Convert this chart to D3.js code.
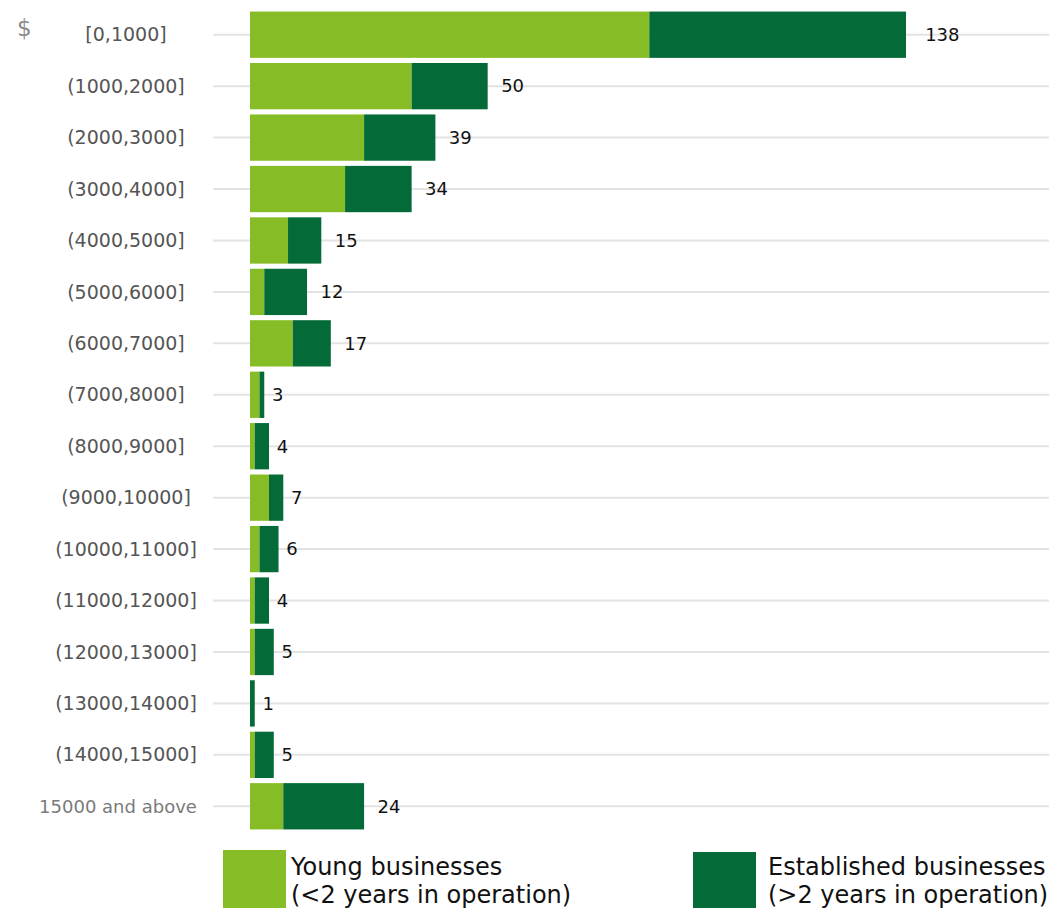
<!DOCTYPE html>
<html>
<head>
<meta charset="utf-8">
<script src="https://cdn.jsdelivr.net/npm/d3@7"></script>
<style>
body { margin: 0; background: #fff; }
svg { font-family: "DejaVu Sans", Verdana, sans-serif; }
</style>
</head>
<body>
<script>
// categories and values
var ranges = ["[0,1000]", "(1000,2000]", "(2000,3000]", "(3000,4000]", "(4000,5000]",
    "(5000,6000]", "(6000,7000]", "(7000,8000]", "(8000,9000]", "(9000,10000]",
    "(10000,11000]", "(11000,12000]", "(12000,13000]", "(13000,14000]", "(14000,15000]",
    "15000 and above"];
var young = [84, 34, 24, 20, 8, 3, 9, 2, 1, 4, 2, 1, 1, 0, 1, 7];
var established = [54, 16, 15, 14, 7, 9, 8, 1, 3, 3, 4, 3, 4, 1, 4, 17];
var seriesNames = ["young", "established"];
var legendLines = [["Young businesses", "(<2 years in operation)"],
                   ["Established businesses", "(>2 years in operation)"]];
var colors = ["#86bc25", "#046a38"];

var width = 1049, height = 908;

var svg = d3.select("body").append("svg")
    .attr("width", width)
    .attr("height", height);

var rows = ranges.map(function(r, i){
    return {range: r, young: young[i], established: established[i]};
});

var stack = d3.stack().keys(seriesNames)(rows);

var x = d3.scaleLinear()
    .domain([0, 138])
    .range([250, 906]);

var y = d3.scaleBand()
    .domain(ranges)
    .range([9, 832])
    .paddingInner(0.1)
    .paddingOuter(0.05);

// gridlines
svg.append("g")
    .selectAll("line")
    .data(ranges)
    .enter()
    .append("line")
    .attr("x1", 213)
    .attr("x2", width)
    .attr("y1", function(d){ return y(d) + y.bandwidth() / 2; })
    .attr("y2", function(d){ return y(d) + y.bandwidth() / 2; })
    .attr("stroke", "#e3e3e3")
    .attr("stroke-width", 2);

// stacked bars
svg.append("g")
    .selectAll("g")
    .data(stack)
    .enter()
    .append("g")
    .attr("fill", function(d, i){ return colors[i]; })
    .selectAll("rect")
    .data(function(d){ return d; })
    .enter()
    .append("rect")
    .attr("x", function(d){ return x(d[0]); })
    .attr("width", function(d){ return x(d[1]) - x(d[0]); })
    .attr("y", function(d){ return y(d.data.range); })
    .attr("height", y.bandwidth());

// category labels
var last = ranges.length - 1;
svg.append("g")
    .selectAll("text")
    .data(ranges)
    .enter()
    .append("text")
    .attr("x", function(d, i){ return i == last ? 118 : 126; })
    .attr("y", function(d){ return y(d) + y.bandwidth() / 2; })
    .attr("dy", "0.35em")
    .attr("text-anchor", "middle")
    .attr("font-size", function(d, i){ return i == last ? 18 : 19; })
    .attr("fill", function(d, i){ return i == last ? "#7a7a7a" : "#555"; })
    .text(function(d){ return d; });

// totals, centred just past the bar end
svg.append("g")
    .selectAll("text")
    .data(rows)
    .enter()
    .append("text")
    .attr("y", function(d){ return y(d.range) + y.bandwidth() / 2; })
    .attr("dy", "0.35em")
    .attr("font-size", 18)
    .attr("fill", "#111")
    .attr("text-anchor", "middle")
    .text(function(d){ return d.young + d.established; })
    .attr("x", function(d){
        return x(d.young + d.established) + 2 + this.getComputedTextLength();
    });

// currency mark
svg.append("text")
    .attr("x", 17)
    .attr("y", 36)
    .attr("font-size", 23)
    .attr("fill", "#8a8a8a")
    .text("$");

// legend
var legendX = [223, 693];
var legend = svg.append("g")
    .selectAll("g")
    .data(legendLines)
    .enter()
    .append("g")
    .attr("transform", function(d, i){ return "translate(" + legendX[i] + ",850)"; });

legend.append("rect")
    .attr("width", 63)
    .attr("height", 58)
    .attr("y", function(d, i){ return i * 2; })
    .attr("fill", function(d, i){ return colors[i]; });

legend.each(function(d, i){
    var tx = i == 0 ? 68 : 75;
    var t = d3.select(this).append("text")
        .attr("font-size", 24)
        .attr("fill", "#111");
    t.selectAll("tspan")
        .data(d)
        .enter()
        .append("tspan")
        .attr("x", tx)
        .attr("y", function(s, j){ return 25 + j * 28; })
        .text(function(s){ return s; });
});
</script>
</body>
</html>
